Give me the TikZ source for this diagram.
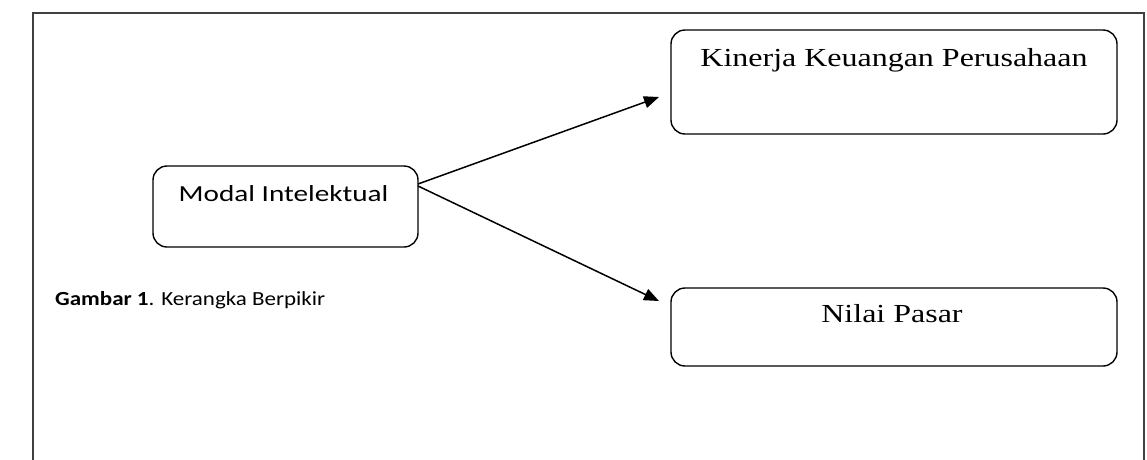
\documentclass[tikz,border=0pt]{standalone}
\usepackage{fontspec}
\setmainfont{Liberation Serif}
\newfontfamily\carl{Carlito}
\usetikzlibrary{arrows.meta}
\newcommand{\wide}[2]{\scalebox{#1}[1]{#2}}
\begin{document}
\begin{tikzpicture}[x=1pt,y=-1pt,
  box/.style={draw,line width=1.4pt,rounded corners=14pt,inner sep=0pt},
  arr/.style={line width=1.5pt,-{Triangle[length=15pt,width=12pt]}}]
\useasboundingbox (0,0) rectangle (1147,459);
\draw[line width=2pt,draw=black!75] (33,470) -- (33,13) -- (1144,13) -- (1144,470);
\node[box,minimum width=265pt,minimum height=81pt] (mi) at (285.5,206.5) {};
\node[font=\carl\fontsize{23}{27}\selectfont] (mit) at (283.5,194) {\wide{1.27}{Modal Intelektual}};
\node[box,minimum width=446pt,minimum height=104pt] (kk) at (894,82) {};
\node[font=\fontsize{26}{30}\selectfont] (kkt) at (894,60) {\wide{1.23}{Kinerja Keuangan Perusahaan}};
\node[box,minimum width=446pt,minimum height=78pt] (np) at (894,327) {};
\node[font=\fontsize{26}{30}\selectfont] (npt) at (892,314) {\wide{1.23}{Nilai Pasar}};
\coordinate (s1) at (418,184);
\coordinate (s2) at (418,186);
\coordinate (e1) at (659,97);
\coordinate (e2) at (659,301);
\draw[arr] (s1) -- (e1);
\draw[arr] (s2) -- (e2);
\node[font=\carl\fontsize{20}{24}\selectfont,anchor=west,inner sep=0pt] (cap) at (55,300) {\wide{1.15}{\textbf{Gambar 1}. Kerangka Berpikir}};
\end{tikzpicture}
\end{document}
